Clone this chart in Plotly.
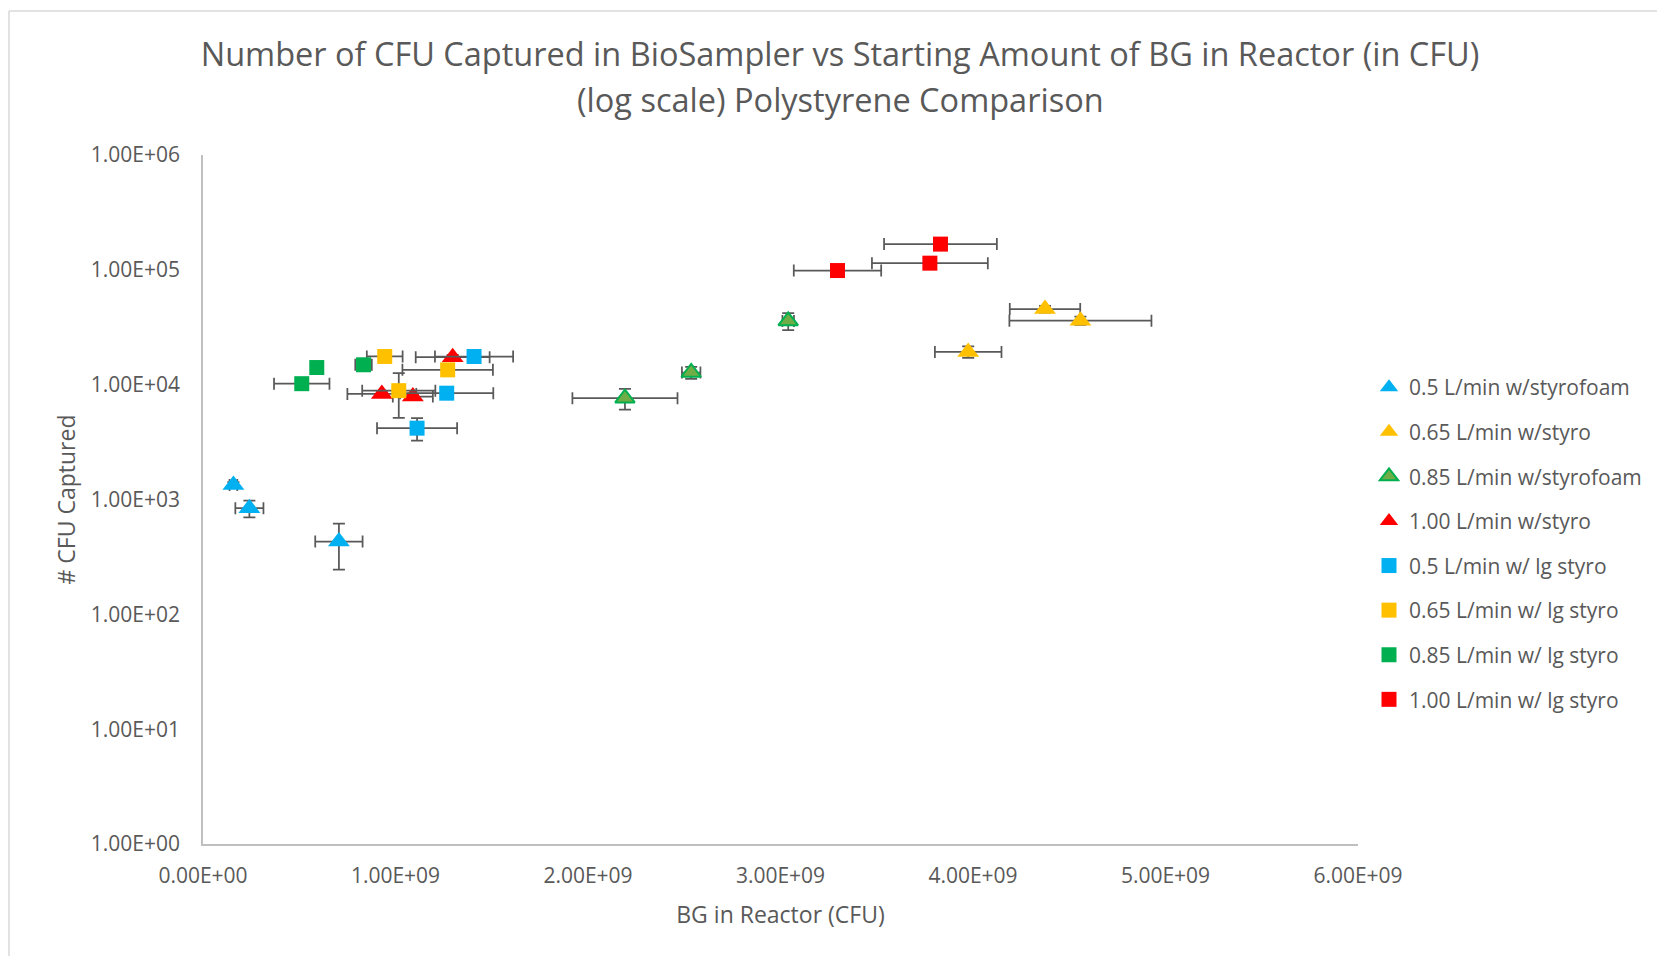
import plotly.graph_objects as go

# ---- data (x in CFU, y in CFU captured) ----
series_names = [
    "0.5 L/min w/styrofoam", "0.65 L/min w/styro", "0.85 L/min w/styrofoam", "1.00 L/min w/styro",
    "0.5 L/min w/ lg styro", "0.65 L/min w/ lg styro", "0.85 L/min w/ lg styro", "1.00 L/min w/ lg styro",
]

tri_05_x = [0.158e9, 0.241e9, 0.706e9]
tri_05_y = [1340, 840, 430]
tri_05_xerr = [0.02e9, 0.073e9, 0.123e9]
tri_05_yerr = [80, 140, 185]

tri_065_x = [3.975e9, 4.374e9, 4.558e9]
tri_065_y = [19300, 45500, 36100]
tri_065_xerr = [0.173e9, 0.183e9, 0.369e9]
tri_065_yerr = [2200, 3000, 3000]

tri_085_x = [2.192e9, 2.536e9, 3.040e9]
tri_085_y = [7630, 12760, 35900]
tri_085_xerr = [0.273e9, 0.048e9, 0.03e9]
tri_085_yerr = [1580, 1500, 6000]

tri_100_x = [0.929e9, 1.090e9, 1.297e9]
tri_100_y = [8300, 7880, 17370]
tri_100_xerr = [0.179e9, 0.104e9, 0.192e9]
tri_100_yerr = [300, 300, 800]

sq_05_x = [1.408e9, 1.266e9, 1.112e9]
sq_05_y = [17580, 8430, 4180]
sq_05_xerr = [0.203e9, 0.242e9, 0.208e9]
sq_05_yerr = [500, 400, 930]

sq_065_x = [0.944e9, 1.017e9, 1.271e9]
sq_065_y = [17600, 8870, 13460]
sq_065_xerr = [0.093e9, 0.19e9, 0.235e9]
sq_065_yerr = [700, 3740, 500]

sq_085_x = [0.591e9, 0.513e9, 0.834e9]
sq_085_y = [14100, 10200, 14900]
sq_085_xerr = [0.0, 0.144e9, 0.043e9]
sq_085_yerr = [500, 500, 700]

sq_100_x = [3.831e9, 3.776e9, 3.296e9]
sq_100_y = [167500, 114300, 98600]
sq_100_xerr = [0.293e9, 0.301e9, 0.227e9]
sq_100_yerr = [3000, 3000, 3000]

x_tickvals = [0, 1e9, 2e9, 3e9, 4e9, 5e9, 6e9]
x_ticktext = ["0.00E+00", "1.00E+09", "2.00E+09", "3.00E+09", "4.00E+09", "5.00E+09", "6.00E+09"]
y_tickvals = [1, 10, 100, 1000, 10000, 100000, 1000000]
y_ticktext = ["1.00E+00", "1.00E+01", "1.00E+02", "1.00E+03", "1.00E+04", "1.00E+05", "1.00E+06"]

BLUE, YELLOW, GREEN, RED = "#00B0F0", "#FFC000", "#00B050", "#FF0000"
GREEN_FILL = "#70AD47"
ERR = "#595959"
TXT = "#595959"
FONT = "Open Sans"

series = [
    (tri_05_x, tri_05_y, tri_05_xerr, tri_05_yerr, "triangle-up", BLUE, BLUE),
    (tri_065_x, tri_065_y, tri_065_xerr, tri_065_yerr, "triangle-up", YELLOW, YELLOW),
    (tri_085_x, tri_085_y, tri_085_xerr, tri_085_yerr, "triangle-up", GREEN_FILL, GREEN),
    (tri_100_x, tri_100_y, tri_100_xerr, tri_100_yerr, "triangle-up", RED, RED),
    (sq_05_x, sq_05_y, sq_05_xerr, sq_05_yerr, "square", BLUE, BLUE),
    (sq_065_x, sq_065_y, sq_065_xerr, sq_065_yerr, "square", YELLOW, YELLOW),
    (sq_085_x, sq_085_y, sq_085_xerr, sq_085_yerr, "square", GREEN, GREEN),
    (sq_100_x, sq_100_y, sq_100_xerr, sq_100_yerr, "square", RED, RED),
]

fig = go.Figure()
for i, (xs, ys, xe, ye, sym, fill, line) in enumerate(series):
    is_tri = sym.startswith("triangle")
    outlined = fill != line
    size = (17 if outlined else 19) if is_tri else 15
    fig.add_trace(go.Scatter(
        x=xs, y=ys, mode="markers", name=series_names[i], legendgroup=f"g{i}",
        marker=dict(symbol=sym, size=size, color=fill,
                    line=dict(color=line, width=2 if outlined else 0)),
        error_x=dict(type="data", array=xe, visible=True, color=ERR, thickness=1.75, width=6),
        error_y=dict(type="data", array=ye, visible=True, color=ERR, thickness=1.75, width=6),
    ))

W, H = 1665, 956
L, T = 195, 147
pw, ph = 1155, 689
R, B = W - L - pw, H - T - ph

# helpers: map reference-screenshot pixel positions to paper coordinates
def px(xp):
    return (xp - 203) / pw

def py(yp):
    return (844 - yp) / ph

fig.update_layout(
    width=W, height=H,
    margin=dict(l=L, r=R, t=T, b=B, autoexpand=False),
    paper_bgcolor="white", plot_bgcolor="white",
    font=dict(family=FONT, color=TXT, size=21),
    title=dict(text="Number of CFU Captured in BioSampler vs Starting Amount of BG in Reactor (in CFU)",
               x=832 / W, xanchor="center", xref="container",
               y=1 - 47 / H, yanchor="middle", yref="container",
               font=dict(family=FONT, size=32.5, color=TXT)),
    xaxis=dict(range=[0, 6e9], tickvals=x_tickvals, ticktext=x_ticktext,
               showgrid=False, zeroline=False, showline=True, linecolor="#BFBFBF", linewidth=1.5,
               ticks="", ticklabelstandoff=12, tickfont=dict(size=21, color=TXT),
               title=dict(text="BG in Reactor (CFU)", font=dict(size=23, color=TXT), standoff=19)),
    yaxis=dict(type="log", range=[0, 6], tickvals=y_tickvals, ticktext=y_ticktext,
               showgrid=False, zeroline=False, showline=True, linecolor="#BFBFBF", linewidth=1.5,
               ticks="", ticklabelstandoff=17, tickfont=dict(size=21, color=TXT),
               title=dict(text="# CFU Captured", font=dict(size=23, color=TXT), standoff=9)),
    legend=dict(x=px(1369), y=py(367), xanchor="left", yanchor="top",
                font=dict(size=21, color=TXT), tracegroupgap=14.3, traceorder="grouped",
                itemwidth=30, bgcolor="rgba(0,0,0,0)"),
    annotations=[dict(text="(log scale) Polystyrene Comparison", xref="paper", yref="paper",
                      x=px(840), y=py(100), xanchor="center", yanchor="middle", showarrow=False,
                      font=dict(family=FONT, size=32.5, color=TXT))],
    shapes=[
        dict(type="line", xref="paper", yref="paper", x0=px(9), x1=px(W + 20), y0=py(11), y1=py(11),
             line=dict(color="#D9D9D9", width=1.5)),
        dict(type="line", xref="paper", yref="paper", x0=px(9), x1=px(9), y0=py(11), y1=py(H + 20),
             line=dict(color="#D9D9D9", width=1.5)),
    ],
)

fig.write_html("out.html")
